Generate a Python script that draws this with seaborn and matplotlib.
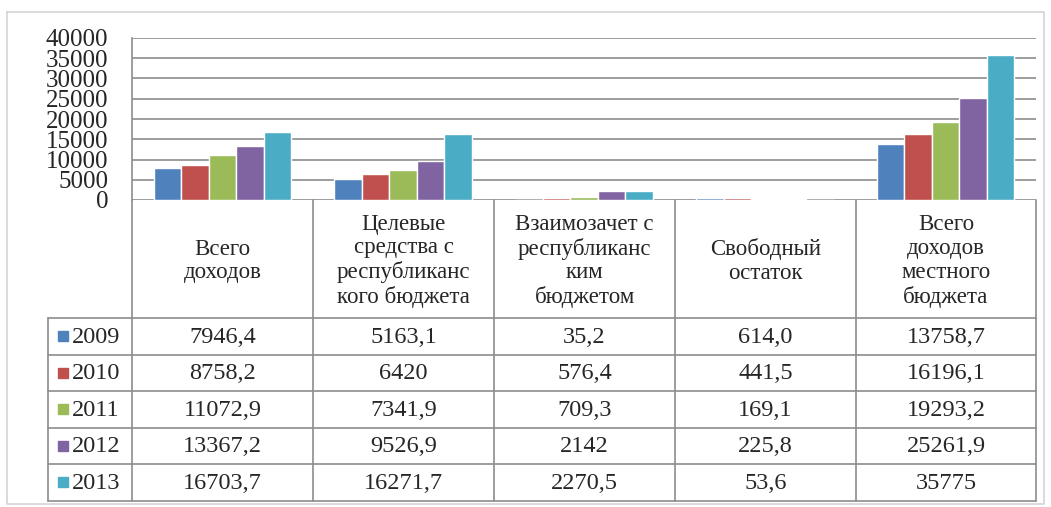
import matplotlib
matplotlib.use("Agg")
import matplotlib.pyplot as plt
import seaborn as sns
import pandas as pd

categories = ["Всего\nдоходов",
              "Целевые\nсредства с\nреспубликанс\nкого бюджета",
              "Взаимозачет с\nреспубликанс\nким\nбюджетом",
              "Свободный\nостаток",
              "Всего\nдоходов\nместного\nбюджета"]
years = ["2009", "2010", "2011", "2012", "2013"]
v2009 = [7946.4, 5163.1, 35.2, 614.0, 13758.7]
v2010 = [8758.2, 6420, 576.4, 441.5, 16196.1]
v2011 = [11072.9, 7341.9, 709.3, 169.1, 19293.2]
v2012 = [13367.2, 9526.9, 2142, 225.8, 25261.9]
v2013 = [16703.7, 16271.7, 2270.5, 53.6, 35775]
labels2009 = ["7946,4", "5163,1", "35,2", "614,0", "13758,7"]
labels2010 = ["8758,2", "6420", "576,4", "441,5", "16196,1"]
labels2011 = ["11072,9", "7341,9", "709,3", "169,1", "19293,2"]
labels2012 = ["13367,2", "9526,9", "2142", "225,8", "25261,9"]
labels2013 = ["16703,7", "16271,7", "2270,5", "53,6", "35775"]
yticks = [0, 5000, 10000, 15000, 20000, 25000, 30000, 35000, 40000]
colors = ["#4F81BD", "#C0504D", "#9BBB59", "#8064A2", "#4BACC6"]

series = [v2009, v2010, v2011, v2012, v2013]
labels = [labels2009, labels2010, labels2011, labels2012, labels2013]
rows = []
for y, vals in zip(years, series):
    for c, v in zip(categories, vals):
        rows.append({"cat": c, "year": y, "value": v})
df = pd.DataFrame(rows)

sns.set_style("white")
plt.rcParams["font.family"] = ["Liberation Serif", "DejaVu Serif"]

W, H = 1051, 507
fig = plt.figure(figsize=(W / 100, H / 100), dpi=100)
fig.patch.set_facecolor("white")

x0, x1 = 132, 1036
ytop, ybase = 38, 200
ax = fig.add_axes([x0 / W, 1 - ybase / H, (x1 - x0) / W, (ybase - ytop) / H])
sns.barplot(data=df, x="cat", y="value", hue="year", order=categories,
            hue_order=years, palette=colors, width=0.76, saturation=1,
            legend=False, ax=ax)
ax.set_ylim(0, 40000)
ax.set_xlim(-0.5, len(categories) - 0.5)
ax.set_yticks(yticks)
ax.set_yticklabels([str(t) for t in yticks], fontsize=18)
ax.tick_params(axis="y", length=0, pad=17)
ax.set_xticks([])
ax.set_xlabel("")
ax.set_ylabel("")
ax.set_axisbelow(True)
ax.yaxis.grid(True, color="#8C8C8C", linewidth=1.2)
for s in ["top", "right", "bottom"]:
    ax.spines[s].set_visible(False)
ax.spines["left"].set_color("#8C8C8C")
ax.spines["left"].set_linewidth(1.2)
ax.patch.set_alpha(0)

# overlay for table in pixel coordinates
ov = fig.add_axes([0, 0, 1, 1], zorder=-1)
ov.set_xlim(0, W)
ov.set_ylim(H, 0)
ov.axis("off")
lc = "#8C8C8C"
ov.plot([7, 1044, 1044, 7, 7], [12, 12, 504, 504, 12], color="#D4D4D4", lw=1.2)

cols = [132, 313, 494, 675, 856, 1036]
hdr_bottom = 318
row_edges = [318, 354.5, 391, 427.5, 464, 500.5]
tleft = 48
ov.plot([132, 132], [ybase, row_edges[-1]], color=lc, lw=1.2)
for cx in cols[1:]:
    ov.plot([cx, cx], [ybase, row_edges[-1]], color=lc, lw=1.2)
ov.plot([tleft, tleft], [row_edges[0], row_edges[-1]], color=lc, lw=1.2)
for ry in row_edges:
    ov.plot([tleft, cols[-1]], [ry, ry], color=lc, lw=1.2)

for i, c in enumerate(categories):
    cx = (cols[i] + cols[i + 1]) / 2
    ov.text(cx, (ybase + hdr_bottom) / 2 + 2, c, ha="center", va="center",
            fontsize=16.5, linespacing=1.17)

for r, (y, lab) in enumerate(zip(years, labels)):
    cy = (row_edges[r] + row_edges[r + 1]) / 2
    ov.add_patch(plt.Rectangle((58, cy - 5), 10, 10, color=colors[r]))
    ov.text(72, cy + 1, y, ha="left", va="center", fontsize=17.5)
    for i, t in enumerate(lab):
        cx = (cols[i] + cols[i + 1]) / 2
        ov.text(cx, cy + 1, t, ha="center", va="center", fontsize=17.5)

fig.savefig("out.png", dpi=100, facecolor="white")
